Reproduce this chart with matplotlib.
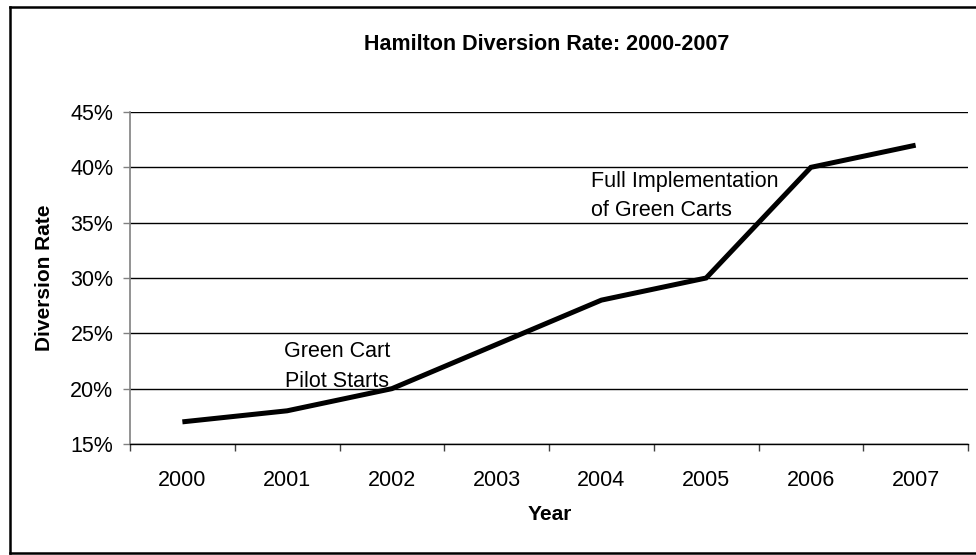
"""Hamilton diversion rate line chart, 2000-2007."""

import matplotlib.pyplot as plt
from matplotlib.lines import Line2D
from matplotlib.ticker import FuncFormatter, MultipleLocator

plt.rcParams["font.family"] = ["Liberation Sans", "DejaVu Sans"]

years = ["2000", "2001", "2002", "2003", "2004", "2005", "2006", "2007"]
diversion_rate = [17, 18, 20, 24, 28, 30, 40, 42]

pilot_note = "Green Cart\nPilot Starts"
full_note = "Full Implementation\nof Green Carts"

W, H = 976, 555
fig = plt.figure(figsize=(W / 100, H / 100), dpi=100)
ax = fig.add_axes([130 / W, 1 - 444 / H, (968 - 130) / W, (444 - 112) / H])

x = list(range(len(years)))
ax.plot(x, diversion_rate, color="black", lw=3.6, solid_joinstyle="miter",
        solid_capstyle="butt", zorder=3)

ax.set_xlim(-0.5, len(years) - 0.5)
ax.set_ylim(15, 45)
ax.yaxis.set_major_locator(MultipleLocator(5))
ax.yaxis.set_major_formatter(FuncFormatter(lambda v, _: f"{v:.0f}%"))
ax.grid(axis="y", color="black", lw=1.0)
ax.set_axisbelow(True)

# category axis: ticks sit between the years, labels under each year
ax.set_xticks([i - 0.5 for i in range(len(years) + 1)])
ax.set_xticklabels([])
ax.set_xticks(x, minor=True)
ax.set_xticklabels(years, minor=True)
ax.tick_params(axis="x", which="major", direction="out", length=5,
               width=1.0, color="#404040")
ax.tick_params(axis="x", which="minor", length=0, pad=19, labelsize=15.5)
ax.tick_params(axis="y", direction="out", length=5, width=1.0,
               color="#808080", pad=7, labelsize=15.5)

for side in ("top", "right"):
    ax.spines[side].set_visible(False)
ax.spines["left"].set_color("#808080")
ax.spines["left"].set_linewidth(1.2)
ax.spines["bottom"].set_color("black")
ax.spines["bottom"].set_linewidth(1.0)

ax.text(1.476, 22.0, pilot_note, ha="center", va="center",
        multialignment="center", fontsize=15.5, linespacing=1.55)
ax.text(3.90, 37.45, full_note, ha="left", va="center",
        fontsize=15.5, linespacing=1.5)

fig.text(547 / W, 1 - 44 / H, "Hamilton Diversion Rate: 2000-2007",
         ha="center", va="center", fontsize=15.5, fontweight="bold")
fig.text(45 / W, 1 - 278 / H, "Diversion Rate", rotation=90,
         ha="center", va="center", fontsize=15, fontweight="bold")
fig.text(550 / W, 1 - 515 / H, "Year", ha="center", va="center",
         fontsize=15, fontweight="bold")

# chart frame (its right edge falls outside the canvas)
fx0, fy0, fy1 = 10 / W, 1 - 553 / H, 1 - 7 / H
for xs, ys in (([fx0, fx0], [fy0, fy1]),
               ([fx0, 1.01], [fy1, fy1]),
               ([fx0, 1.01], [fy0, fy0])):
    fig.add_artist(Line2D(xs, ys, color="black", lw=1.8,
                          transform=fig.transFigure, clip_on=False))

fig.savefig("out.png", dpi=100, facecolor="white")
